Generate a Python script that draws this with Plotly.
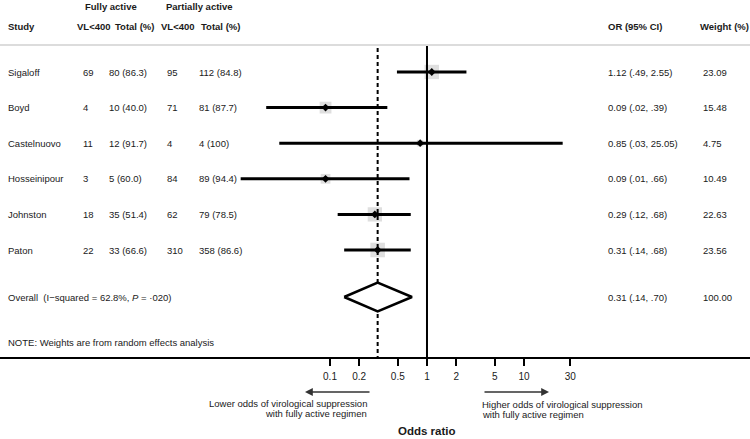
import plotly.graph_objects as go
import math

# ---------------- data ----------------
studies = ["Sigaloff", "Boyd", "Castelnuovo", "Hosseinipour", "Johnston", "Paton"]
fa_vl = ["69", "4", "11", "3", "18", "22"]
fa_total = ["80 (86.3)", "10 (40.0)", "12 (91.7)", "5 (60.0)", "35 (51.4)", "33 (66.6)"]
pa_vl = ["95", "71", "4", "84", "62", "310"]
pa_total = ["112 (84.8)", "81 (87.7)", "4 (100)", "89 (94.4)", "79 (78.5)", "358 (86.6)"]
or_est = [1.12, 0.09, 0.85, 0.09, 0.29, 0.31]
or_lo = [0.49, 0.022, 0.03, 0.012, 0.12, 0.14]
or_hi = [2.55, 0.39, 25.05, 0.66, 0.68, 0.68]
weights = [23.09, 15.48, 4.75, 10.49, 22.63, 23.56]
overall_or, overall_lo, overall_hi = 0.31, 0.14, 0.70
overall_weight = 100.00
tick_vals = [0.1, 0.2, 0.5, 1, 2, 5, 10, 30]
tick_text = ["0.1", "0.2", "0.5", "1", "2", "5", "10", "30"]

# ---------------- layout helpers ----------------
W, H = 750, 439
FONT = "Liberation Sans, Arial, sans-serif"
TXT = "#1a1a1a"
FS = 9.5
row_y0, row_step = 72, 35.6
rows_y = [row_y0 + i * row_step for i in range(len(studies))]
overall_y = 297
note_y = 342
head1_y, head2_y = 6, 26
sep_y = 45
axis_y = 358


def px(x):
    return x / W


def fmt_ci(v):
    s = f"{v:.2f}"
    if s.startswith("0"):
        s = s[1:]
    return s


fig = go.Figure()

# gray weight squares
fig.add_trace(go.Scatter(
    x=or_est, y=rows_y, mode="markers",
    marker=dict(symbol="square", color="#d2d2d2",
                size=[3.0 * math.sqrt(w) for w in weights], line=dict(width=0)),
    hoverinfo="skip", showlegend=False))

# confidence interval lines
for lo, hi, y in zip(or_lo, or_hi, rows_y):
    fig.add_trace(go.Scatter(x=[lo, hi], y=[y, y], mode="lines",
                             line=dict(color="black", width=3),
                             hoverinfo="skip", showlegend=False))

# point estimates
fig.add_trace(go.Scatter(
    x=or_est, y=rows_y, mode="markers",
    marker=dict(symbol="diamond", color="black", size=6),
    hoverinfo="skip", showlegend=False))

# no-effect line and overall dashed line
fig.add_trace(go.Scatter(x=[1, 1], y=[sep_y + 1, axis_y], mode="lines",
                         line=dict(color="black", width=2),
                         hoverinfo="skip", showlegend=False))
fig.add_trace(go.Scatter(x=[overall_or, overall_or], y=[sep_y + 3, axis_y], mode="lines",
                         line=dict(color="black", width=2, dash="4px,3px"),
                         hoverinfo="skip", showlegend=False))

# overall diamond
dh = 14.5
fig.add_trace(go.Scatter(
    x=[overall_lo, overall_or, overall_hi, overall_or, overall_lo],
    y=[overall_y, overall_y - dh, overall_y, overall_y + dh, overall_y],
    mode="lines", fill="toself", fillcolor="white",
    line=dict(color="black", width=2.5),
    hoverinfo="skip", showlegend=False))

ann = []


def txt(x, y, s, bold=False, size=FS, anchor="left"):
    if bold:
        s = f"<b>{s}</b>"
    shift = {"left": -2, "right": 2, "center": 0}[anchor]
    ann.append(dict(x=px(x), y=y, xref="paper", yref="y", text=s, showarrow=False,
                    xanchor=anchor, yanchor="middle", xshift=shift,
                    font=dict(family=FONT, size=size, color=TXT)))


# headers
txt(85, head1_y, "Fully active", bold=True)
txt(166, head1_y, "Partially active", bold=True)
txt(8, head2_y, "Study", bold=True)
txt(77, head2_y, "VL&lt;400", bold=True)
txt(115, head2_y, "Total (%)", bold=True)
txt(161, head2_y, "VL&lt;400", bold=True)
txt(201, head2_y, "Total (%)", bold=True)
txt(608, head2_y, "OR (95% CI)", bold=True)
txt(700, head2_y, "Weight (%)", bold=True)

for i, y in enumerate(rows_y):
    txt(8, y, studies[i])
    txt(83, y, fa_vl[i])
    txt(109, y, fa_total[i])
    txt(167, y, pa_vl[i])
    txt(199, y, pa_total[i])
    txt(608, y, f"{or_est[i]:.2f} ({fmt_ci(or_lo[i])}, {fmt_ci(or_hi[i])})")
    txt(703, y, f"{weights[i]:.2f}")

txt(8, overall_y, "Overall  (I\u2212squared = 62.8%, <i>P</i> = \u00b7020)")
txt(608, overall_y, f"{overall_or:.2f} ({fmt_ci(overall_lo)}, {fmt_ci(overall_hi)})")
txt(703, overall_y, f"{overall_weight:.2f}")
txt(8, note_y, "NOTE: Weights are from random effects analysis")

# direction arrows and texts
arrow_y = 392
ann.append(dict(x=px(305), y=arrow_y, xref="paper", yref="y", ax=66, ay=0,
                showarrow=True, arrowhead=2, arrowsize=1.2, arrowwidth=1.3,
                arrowcolor="#333333", text=""))
ann.append(dict(x=px(549), y=arrow_y, xref="paper", yref="y", ax=-66, ay=0,
                showarrow=True, arrowhead=2, arrowsize=1.2, arrowwidth=1.3,
                arrowcolor="#333333", text=""))
txt(367, 403, "Lower odds of virological suppression", anchor="right")
txt(367, 413.5, "with fully active regimen", anchor="right")
txt(482, 404, "Higher odds of virological suppression")
txt(482, 414.5, "with fully active regimen")
txt(427, 431, "Odds ratio", bold=True, size=11.5, anchor="center")

fig.update_layout(
    width=W, height=H,
    margin=dict(l=0, r=0, t=0, b=0),
    paper_bgcolor="white", plot_bgcolor="white",
    showlegend=False,
    annotations=ann,
    shapes=[dict(type="line", xref="paper", yref="y", x0=0, x1=1, y0=sep_y, y1=sep_y,
                 line=dict(color="#dcdcdc", width=2))],
    xaxis=dict(type="log", range=[-4.402, 3.330], showgrid=False, zeroline=False,
               tickvals=tick_vals, ticktext=tick_text,
               ticks="outside", ticklen=7, tickwidth=2, tickcolor="black",
               showline=True, linecolor="black", linewidth=2,
               anchor="free", position=(H - axis_y) / H,
               ticklabelstandoff=2,
               tickfont=dict(family=FONT, size=10, color=TXT),
               fixedrange=True),
    yaxis=dict(range=[H, 0], visible=False, showgrid=False, zeroline=False,
               fixedrange=True),
)

fig.write_html("out.html", config={"displayModeBar": False},
               post_script="document.body.style.margin='0px';")
